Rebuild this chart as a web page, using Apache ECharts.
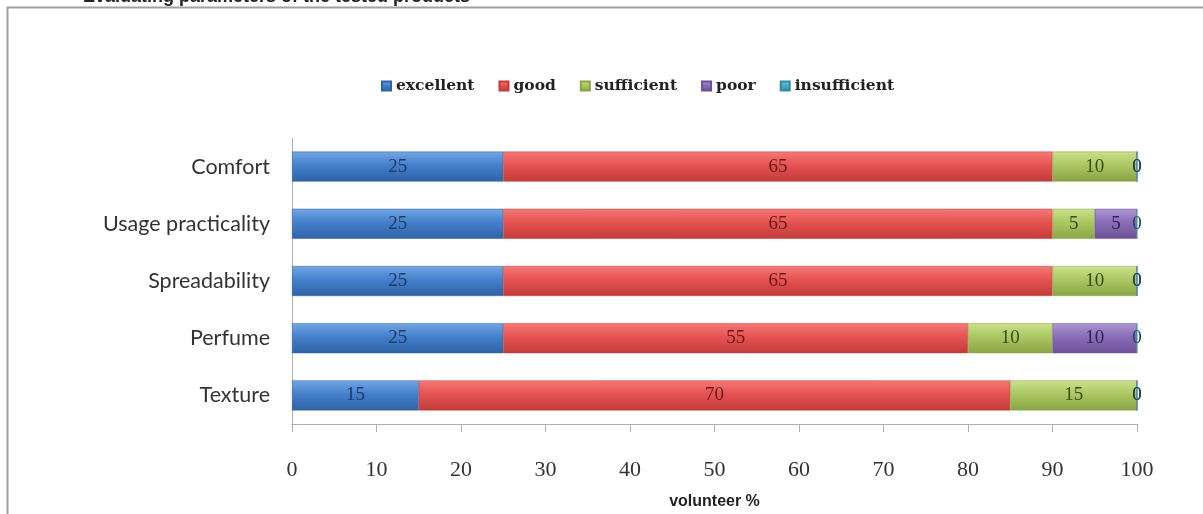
<!DOCTYPE html>
<html>
<head>
<meta charset="utf-8">
<script src="https://cdn.jsdelivr.net/npm/echarts@6/dist/echarts.min.js"></script>
<style>
html,body{margin:0;padding:0;background:#fff;}
#c{width:1203px;height:514px;}
</style>
</head>
<body>
<div id="c"></div>
<script>
const categories = ['Comfort', 'Usage practicality', 'Spreadability', 'Perfume', 'Texture'];
const excellent = [25, 25, 25, 25, 15];
const good = [65, 65, 65, 55, 70];
const sufficient = [10, 5, 10, 10, 15];
const poor = [0, 5, 0, 10, 0];
const insufficient = [0, 0, 0, 0, 0];
const seriesNames = ['excellent', 'good', 'sufficient', 'poor', 'insufficient'];
const xTicks = [0, 10, 20, 30, 40, 50, 60, 70, 80, 90, 100];

const colors = [
  ['#74a6e2', '#4580cc', '#2e62a6', '#1e3a66'],
  ['#f47a78', '#e65252', '#c03c3a', '#6a1a1a'],
  ['#cce08c', '#aac862', '#8aa446', '#3d4a18'],
  ['#ad98d2', '#8a6cb8', '#6c5196', '#2f2250'],
  ['#7cc8dc', '#4bacc6', '#358aa2', '#1a4a58']
];
const dataSets = [excellent, good, sufficient, poor, insufficient];

const chart = echarts.init(document.getElementById('c'));
chart.setOption({
  animation: false,
  backgroundColor: '#fff',
  title: {
    text: 'Evaluating parameters of the tested products',
    left: 78, top: -17,
    textStyle: {fontFamily: 'Liberation Sans', fontWeight: 'bold', fontSize: 18, color: '#222'}
  },
  graphic: [{
    type: 'rect', shape: {x: 7.5, y: 7.5, width: 1210, height: 520},
    style: {fill: 'none', stroke: '#a0a0a0', lineWidth: 2}, silent: true
  }],
  legend: {
    top: 73, left: 376,
    itemWidth: 9, itemHeight: 9, itemGap: 24,
    data: seriesNames,
    icon: 'rect',
    textStyle: {fontFamily: 'DejaVu Serif', fontWeight: 'bold', fontSize: 15.5, color: '#222'}
  },
  grid: {left: 292, right: 66, top: 138, bottom: 90, outerBoundsMode: 'none'},
  xAxis: {
    type: 'value', min: 0, max: 100, interval: 10,
    name: 'volunteer %', nameLocation: 'middle', nameGap: 70,
    nameTextStyle: {fontFamily: 'Liberation Sans', fontWeight: 'bold', fontSize: 16, color: '#222'},
    axisLine: {show: true, lineStyle: {color: '#a8b0bc', width: 1}},
    axisTick: {show: true, length: 8, lineStyle: {color: '#a8b0bc'}},
    splitLine: {show: false},
    axisLabel: {
      margin: 35, fontFamily: 'Liberation Serif', fontSize: 22, color: '#333',
      formatter: v => xTicks.includes(v) ? String(v) : ''
    }
  },
  yAxis: {
    type: 'category', data: categories, inverse: true,
    axisLine: {show: true, lineStyle: {color: '#a8b0bc'}},
    axisTick: {show: false},
    axisLabel: {margin: 22, fontFamily: 'Lato', fontSize: 21.5, color: '#333'}
  },
  series: seriesNames.map((name, i) => ({
    name: name,
    type: 'bar',
    stack: 'total',
    barWidth: 30,
    data: dataSets[i],
    itemStyle: {
      color: new echarts.graphic.LinearGradient(0, 0, 0, 1, [
        {offset: 0, color: colors[i][0]},
        {offset: 0.45, color: colors[i][1]},
        {offset: 1, color: colors[i][2]}
      ]),
      borderColor: colors[i][2], borderWidth: 0.5
    },
    label: {
      show: true, position: 'inside',
      fontFamily: 'Liberation Serif', fontSize: 19,
      color: colors[i][3],
      formatter: p => String(p.value)
    }
  }))
});
</script>
</body>
</html>
